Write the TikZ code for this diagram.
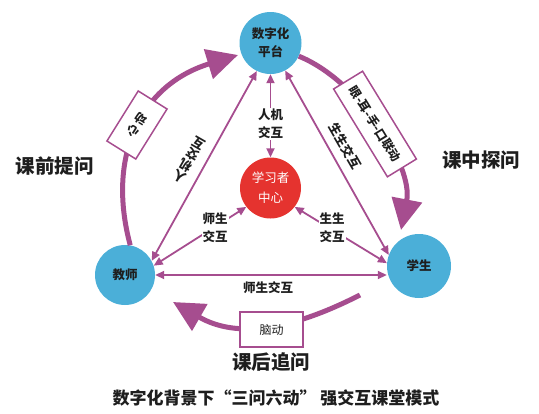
\documentclass[tikz,border=0pt]{standalone}
\usepackage{fontspec}
\setmainfont{Noto Sans CJK SC}
\usetikzlibrary{arrows.meta}
\definecolor{cblue}{HTML}{4BAFD8}
\definecolor{cred}{HTML}{E5332F}
\definecolor{cpurp}{HTML}{A64D8F}
\definecolor{ctext}{HTML}{1E1E1E}
\begin{document}
\begin{tikzpicture}[x=1pt,y=1pt,
  hub/.style={circle, fill=cblue, minimum size=62pt, inner sep=0pt, align=center, font=\fontsize{12.5}{18}\selectfont\bfseries, text=ctext},
  link/.style={draw=cpurp, line width=1.8pt, {Triangle[length=9pt,width=8pt]}-{Triangle[length=9pt,width=8pt]}},
  flow/.style={draw=cpurp, line width=5pt, -{Triangle[length=31pt,width=30pt]}},
  tag/.style={fill=white, align=center, inner sep=1pt, font=\fontsize{12.5}{18}\selectfont\bfseries, text=ctext},
  side/.style={font=\fontsize{12.5}{15}\selectfont\bfseries, text=ctext, align=center, inner sep=0pt},
  actbox/.style={draw=cpurp, line width=1.5pt, fill=white, inner sep=0pt, font=\fontsize{12}{13.5}\selectfont\bfseries, text=ctext, align=center},
  phase/.style={font=\fontsize{19.5}{22}\selectfont\bfseries, text=ctext}
]
\useasboundingbox (0,0) rectangle (539,-413);

% hubs
\node[hub] (P) at (270.5,-43) {数字化\\平台};
\node[hub, minimum size=61pt, fill=cred, text=white, font=\fontsize{12.5}{20}\selectfont] (C) at (270.5,-188) {学习者\\中心};
\node[hub, minimum size=60pt] (T) at (125,-275) {教师};
\node[hub, minimum size=64pt] (S) at (419,-266) {学生};

% outer flows
\coordinate (tipL) at (238,-55);
\coordinate (tipR) at (401,-230);
\coordinate (startB) at (360,-295);
\coordinate (tipB) at (173,-302);
\draw[flow] (T.80) .. controls +(105:95) and +(197:100) .. (tipL);
\draw[flow] (P.335) .. controls +(-22:65) and +(79:65) .. (tipR);
\draw[flow] (startB) .. controls +(207:75) and +(-30:75) .. (tipB);

% links
\draw[link] (P.270) -- (C.90);
\draw[link] (T.28) -- (P.244);
\draw[link] (S.160) -- (P.298);
\draw[link] (C.218) -- (T.18);
\draw[link] (C.322) -- (S.175);
\draw[link] (T.east) -- (S.west |- T.east);

% link labels
\node[tag] (l1) at (270.5,-124) {人机\\交互};
\node[tag] (l2) at (215,-228) {师生\\交互};
\node[tag] (l3) at (332,-228) {生生\\交互};
\node[side] (l4) at (268,-288) {师生交互};
\node[side, rotate=150, font=\fontsize{12.5}{13}\selectfont\bfseries] (l5) at (189,-160) {人\\机\\交\\互};
\node[side, rotate=-60] (l6) at (345,-146) {生生交互};

% action boxes
\node[actbox, minimum width=34pt, minimum height=59pt, rotate=148] (b1) at (137,-125) {心\\动};
\node[actbox, minimum width=103pt, minimum height=34pt, rotate=-58.5] (b2) at (375,-124) {眼-耳-手-口联动};
\node[actbox, minimum width=63pt, minimum height=35pt, font=\fontsize{12}{13}\selectfont] (b3) at (271.5,-329.5) {脑动};

% phases
\node[phase] (q1) at (55,-166) {课前提问};
\node[phase] (q2) at (481,-160) {课中探问};
\node[phase] (q3) at (271,-362) {课后追问};

% title
\node[font=\fontsize{17}{20}\selectfont\bfseries, text=ctext] (title) at (276,-398) {数字化背景下“三问六动” 强交互课堂模式};
\end{tikzpicture}
\end{document}
